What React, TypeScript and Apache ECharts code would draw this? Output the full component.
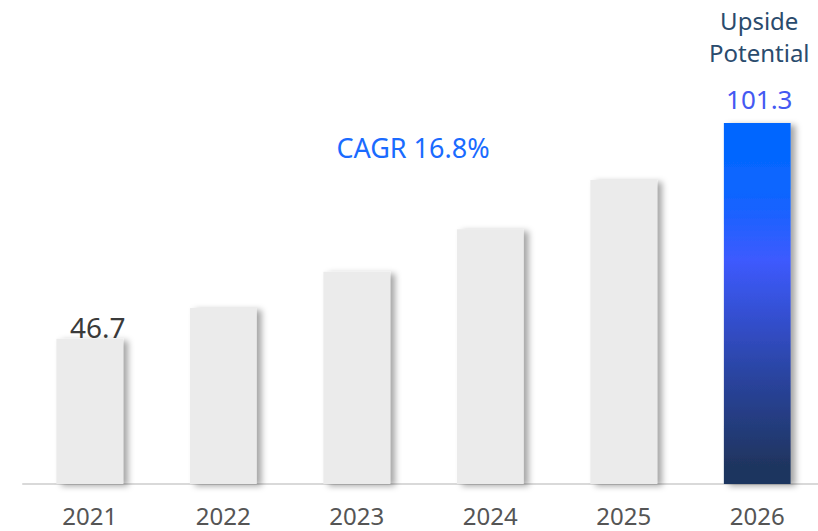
import React, { useEffect, useRef } from "react";
import * as echarts from "echarts";

const categories = ["2021", "2022", "2023", "2024", "2025", "2026"];
const values = [46.7, 54.5, 63.7, 74.4, 86.9, 101.3];
const labeledIndex = [0, 5];
const cagrText = "CAGR 16.8%";
const upsideText = ["Upside", "Potential"];

export default function App() {
  const ref = useRef<HTMLDivElement>(null);
  useEffect(() => {
    if (!ref.current) return;
    const chart = echarts.init(ref.current, null, { renderer: "svg" });
    const last = values.length - 1;
    const shadow = {
      shadowColor: "rgba(0,0,0,0.35)",
      shadowBlur: 6,
      shadowOffsetX: 5,
      shadowOffsetY: 2,
    };
    const data = values.map((v, i) => {
      const isLast = i === last;
      return {
        value: v,
        itemStyle: isLast
          ? {
              color: new echarts.graphic.LinearGradient(0, 0, 0, 1, [
                { offset: 0, color: "#0066ff" },
                { offset: 0.18, color: "#0a66ff" },
                { offset: 0.38, color: "#3d5afe" },
                { offset: 0.7, color: "#2a44a0" },
                { offset: 0.95, color: "#1f355f" },
                { offset: 1, color: "#1f355f" },
              ]),
              ...shadow,
            }
          : { color: "#ebebeb", ...shadow },
        label: labeledIndex.includes(i)
          ? isLast
            ? {
                show: true,
                position: "top",
                distance: 8,
                offset: [2, 0],
                formatter: `{a|${upsideText[0]}}\n{a|${upsideText[1]}}\n{s| }\n{b|{c}}`,
                rich: {
                  a: { fontSize: 24, lineHeight: 32, color: "#2a4b6d", fontFamily: "Noto Sans" },
                  s: { fontSize: 10, lineHeight: 14 },
                  b: { fontSize: 26, lineHeight: 32, color: "#4459f2", fontFamily: "Noto Sans" },
                },
              }
            : {
                show: true,
                position: "top",
                distance: -2,
                offset: [8, 0],
                fontSize: 28,
                color: "#3a3a3a",
                fontFamily: "Noto Sans",
              }
          : { show: false },
      };
    });
    chart.setOption({
      animation: false,
      grid: { left: 23, right: 6, top: 49, bottom: 47, containLabel: false },
      xAxis: {
        type: "category",
        data: categories,
        axisLine: { show: true, lineStyle: { color: "#d9d9d9", width: 2 } },
        axisTick: { show: false },
        axisLabel: { fontSize: 24, color: "#555555", fontFamily: "Noto Sans", margin: 19 },
      },
      yAxis: {
        type: "value",
        min: 10,
        max: 120,
        show: false,
        splitLine: { show: false },
      },
      graphic: [
        {
          type: "text",
          x: 413,
          y: 147,
          style: {
            text: cagrText,
            fontSize: 27,
            fill: "#1a6bff",
            fontFamily: "Noto Sans",
            textAlign: "center",
            textVerticalAlign: "middle",
          },
        },
      ],
      series: [
        {
          type: "bar",
          data,
          barWidth: "50%",
          z: 2,
        },
      ],
    });
    return () => chart.dispose();
  }, []);
  return (
    <div style={{ width: 818, height: 531, position: "absolute", left: 0, top: 0, overflow: "hidden" }}>
      <div ref={ref} style={{ width: 830, height: 531 }} />
    </div>
  );
}
